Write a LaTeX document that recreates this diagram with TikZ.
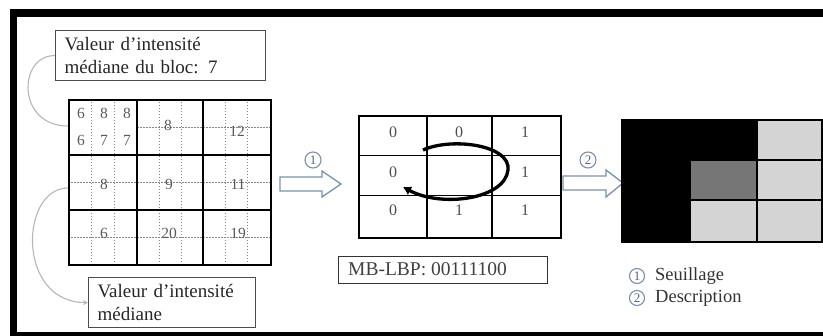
\documentclass[tikz,border=0pt]{standalone}
\usepackage{fontspec}
\setmainfont{Liberation Serif}
\usetikzlibrary{arrows.meta}
\definecolor{arrc}{RGB}{120,145,178}
\definecolor{numc}{RGB}{90,90,90}
\definecolor{lgray}{RGB}{212,212,212}
\definecolor{mgray}{RGB}{118,118,118}
\definecolor{curvec}{RGB}{180,182,188}
\definecolor{dotc}{RGB}{135,135,135}
\begin{document}
\begin{tikzpicture}[x=1pt,y=-1pt,
  lbl/.style={draw=black!70, line width=1.2pt, align=left, anchor=north west,
    font=\fontsize{19}{23}\selectfont, inner xsep=9pt, inner ysep=2pt, minimum height=50pt, text=black!85},
  gnum/.style={text=numc, font=\fontsize{15.5}{15}\selectfont, inner sep=0pt},
  mnum/.style={text=black!70, font=\fontsize{16}{16}\selectfont, inner sep=0pt},
  dotl/.style={dotc, line width=0.7pt, dash pattern=on 1.5pt off 1.5pt},
  thickl/.style={black, line width=1.9pt},
  blockarr/.style={draw=arrc, line width=1.3pt, fill=white, line join=miter},
  cnum/.style={circle, draw=arrc, line width=1.1pt, text=arrc!70!black, inner sep=0.6pt,
    minimum size=16pt, font=\fontsize{13}{13}\selectfont},
  curvel/.style={curvec, line width=1.1pt},
  legtxt/.style={anchor=west, inner sep=0pt, font=\fontsize{18.5}{20}\selectfont, text=black!80}
]
\useasboundingbox (0,0) rectangle (823,336);
% frame
\fill[black] (10,9) rectangle (823,17);
\fill[black] (10,9) rectangle (17,336);
\fill[black] (10,332) rectangle (823,336);

% label boxes
\node[lbl, text width=192pt] (box1) at (55,30) {Valeur d’intensité\\médiane du bloc: 7};
\node[lbl, text width=149pt] (box2) at (88,277) {Valeur d’intensité\\médiane};

% left grid: dotted sub-divisions
\foreach \a/\b in {68/137,137/203,203/270}{
  \draw[dotl] ({\a+(\b-\a)/3},99) -- ({\a+(\b-\a)/3},264);
  \draw[dotl] ({\a+2*(\b-\a)/3},99) -- ({\a+2*(\b-\a)/3},264);
}
\draw[dotl] (137,127) -- (270,127);
\draw[dotl] (68,182.5) -- (270,182.5);
\draw[dotl] (68,237) -- (270,237);
\node[draw, thickl, minimum width=202pt, minimum height=165pt, inner sep=0pt, anchor=north west] (lgrid) at (68,99) {};
\draw[thickl] (137,99) -- (137,264) (203,99) -- (203,264) (68,155) -- (270,155) (68,210) -- (270,210);
\coordinate (g1) at (68,126);
\coordinate (g2) at (68,188);

% left grid numbers
\node[gnum] (a1) at (81,113) {6};
\node[gnum] (a2) at (104,113) {8};
\node[gnum] (a3) at (127,113) {8};
\node[gnum] (a4) at (81,140) {6};
\node[gnum] (a5) at (104,140) {7};
\node[gnum] (a6) at (127,140) {7};
\node[gnum] (n12) at (168,125) {8};
\node[gnum] (n13) at (237,131) {12};
\node[gnum] (n21) at (104,184) {8};
\node[gnum] (n22) at (169,184) {9};
\node[gnum] (n23) at (238,184) {11};
\node[gnum] (n31) at (104,233) {6};
\node[gnum] (n32) at (169,233) {20};
\node[gnum] (n33) at (238,233) {19};

% gray curves
\draw[curvel] (box1.west) .. controls (18,55) and (16,126) .. (g1);
\draw[curvel, -{Stealth[length=5pt,width=5pt]}] (g2) .. controls (20,188) and (16,302) .. (box2.west);

% arrow 1
\draw[blockarr] (280,177) -- (322,177) -- (322,171) -- (341,184) -- (322,197) -- (322,191) -- (280,191) -- cycle;
\node[cnum] (c1) at (313,160) {1};

% middle grid
\node[draw, thickl, minimum width=202pt, minimum height=122pt, inner sep=0pt, anchor=north west] (mgrid) at (358,115) {};
\draw[thickl] (427,115) -- (427,237) (492,115) -- (492,237) (358,155.5) -- (560,155.5) (358,195.5) -- (560,195.5);
\node[mnum] (m11) at (393,132) {0};
\node[mnum] (m12) at (459,132) {0};
\node[mnum] (m13) at (525,132) {1};
\node[mnum] (m21) at (393,172) {0};
\node[mnum] (m23) at (525,172) {1};
\node[mnum] (m31) at (393,210) {0};
\node[mnum] (m32) at (459,210) {1};
\node[mnum] (m33) at (525,210) {1};
\coordinate (cs) at (423,150);
\coordinate (ce) at (403,187);
\draw[black, line width=3.3pt, -{Latex[length=8pt,width=10pt]}] (cs) .. controls (452,137) and (511,145) .. (508,170) .. controls (505,199) and (442,208) .. (ce);

\node[draw=black!80, line width=1.3pt, minimum width=209pt, minimum height=27pt, inner sep=0pt, anchor=north west] (mb) at (338,256) {};
\node[anchor=west, inner sep=0pt, font=\fontsize{19.5}{20}\selectfont, text=black!75] (mbt) at (348,269.5) {MB-LBP: 00111100};

% arrow 2
\draw[blockarr] (563,176) -- (606,176) -- (606,170) -- (623,183) -- (606,197) -- (606,190) -- (563,190) -- cycle;
\node[cnum] (c2) at (588,160) {2};

% right grid
\fill[black] (622,120) rectangle (757,160);
\fill[black] (622,160) rectangle (690,242);
\fill[mgray] (690,160) rectangle (757,200);
\fill[lgray] (757,120) rectangle (823,242);
\fill[lgray] (690,200) rectangle (757,242);
\draw[thickl] (622,120) rectangle (822,242);
\draw[thickl] (690,120) -- (690,242) (757,120) -- (757,242) (622,160) -- (823,160) (622,200) -- (823,200);
\node[inner sep=0pt, minimum width=200pt, minimum height=122pt, anchor=north west] (rgrid) at (622,120) {};

% legend
\node[cnum, minimum size=15pt] (l1) at (637,276) {1};
\node[legtxt] (t1) at (655,276) {Seuillage};
\node[cnum, minimum size=15pt] (l2) at (637,298) {2};
\node[legtxt] (t2) at (655,298) {Description};
\end{tikzpicture}
\end{document}
